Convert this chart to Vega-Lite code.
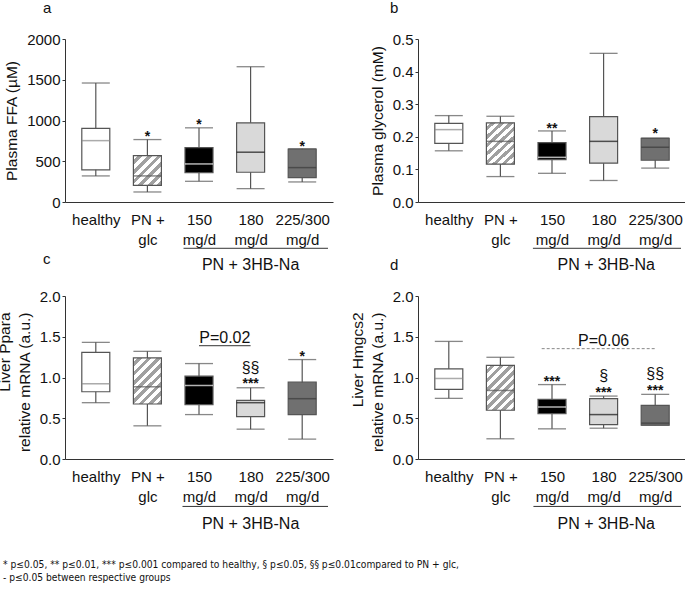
{
"$schema":"https://vega.github.io/schema/vega-lite/v6.json",
"autosize":{"type":"none"},
"padding":{"left":65,"top":39,"right":620,"bottom":562},
"background":"white",
"config":{"font":"Liberation Sans","view":{"stroke":null},
 "axis":{"grid":false,"labelFontSize":15,"titleFontSize":15.5,"titleFontWeight":"normal","labelColor":"#111","titleColor":"#111","domainColor":"#333","tickColor":"#333","tickSize":3,"labelPadding":2,"titleLineHeight":20,"titlePadding":7},
 "axisY":{"labelOverlap":false},
 "title":{"fontWeight":"normal","color":"#111"}},
"datasets":{
"box":[
{"panel":"a","pos":1,"lo":320,"q1":395,"med":753,"q3":904,"hi":1460},
{"panel":"a","pos":2,"lo":123,"q1":205,"med":320,"q3":570,"hi":766},
{"panel":"a","pos":3,"lo":254,"q1":361,"med":467,"q3":668,"hi":910},
{"panel":"a","pos":4,"lo":164,"q1":365,"med":611,"q3":971,"hi":1660},
{"panel":"a","pos":5,"lo":246,"q1":299,"med":422,"q3":648,"hi":652},
{"panel":"b","pos":1,"lo":0.157,"q1":0.180,"med":0.222,"q3":0.241,"hi":0.265},
{"panel":"b","pos":2,"lo":0.078,"q1":0.116,"med":0.186,"q3":0.243,"hi":0.263},
{"panel":"b","pos":3,"lo":0.088,"q1":0.130,"med":0.137,"q3":0.182,"hi":0.218},
{"panel":"b","pos":4,"lo":0.066,"q1":0.119,"med":0.186,"q3":0.262,"hi":0.456},
{"panel":"b","pos":5,"lo":0.104,"q1":0.128,"med":0.168,"q3":0.195,"hi":0.196},
{"panel":"c","pos":1,"lo":0.691,"q1":0.825,"med":0.923,"q3":1.309,"hi":1.431},
{"panel":"c","pos":2,"lo":0.407,"q1":0.675,"med":0.886,"q3":1.240,"hi":1.321},
{"panel":"c","pos":3,"lo":0.545,"q1":0.667,"med":0.902,"q3":1.016,"hi":1.171},
{"panel":"c","pos":4,"lo":0.366,"q1":0.520,"med":0.691,"q3":0.720,"hi":0.874},
{"panel":"c","pos":5,"lo":0.244,"q1":0.545,"med":0.740,"q3":0.943,"hi":1.220},
{"panel":"d","pos":1,"lo":0.744,"q1":0.854,"med":0.988,"q3":1.106,"hi":1.443},
{"panel":"d","pos":2,"lo":0.248,"q1":0.598,"med":0.841,"q3":1.150,"hi":1.248},
{"panel":"d","pos":3,"lo":0.370,"q1":0.557,"med":0.638,"q3":0.732,"hi":0.913},
{"panel":"d","pos":4,"lo":0.378,"q1":0.423,"med":0.545,"q3":0.740,"hi":0.772},
{"panel":"d","pos":5,"lo":0.415,"q1":0.415,"med":0.440,"q3":0.659,"hi":0.793}
],
"notes":[
{"panel":"a","kind":"sig","pos":2,"y":746,"t":"*"},
{"panel":"a","kind":"sig","pos":3,"y":893,"t":"*"},
{"panel":"a","kind":"sig","pos":5,"y":623,"t":"*"},
{"panel":"b","kind":"sig","pos":3,"y":0.213,"t":"**"},
{"panel":"b","kind":"sig","pos":5,"y":0.195,"t":"*"},
{"panel":"c","kind":"sig","pos":4,"y":1.05,"t":"§§"},
{"panel":"c","kind":"sig","pos":4,"y":0.872,"t":"***"},
{"panel":"c","kind":"sig","pos":5,"y":1.206,"t":"*"},
{"panel":"d","kind":"sig","pos":3,"y":0.900,"t":"***"},
{"panel":"d","kind":"sig","pos":4,"y":0.952,"t":"§"},
{"panel":"d","kind":"sig","pos":4,"y":0.760,"t":"***"},
{"panel":"d","kind":"sig","pos":5,"y":0.978,"t":"§§"},
{"panel":"d","kind":"sig","pos":5,"y":0.783,"t":"***"},
{"panel":"a","kind":"label","pos":4.0,"y":-839,"t":"PN + 3HB-Na"},
{"panel":"b","kind":"label","pos":4.05,"y":-0.21,"t":"PN + 3HB-Na"},
{"panel":"c","kind":"label","pos":4.0,"y":-0.859,"t":"PN + 3HB-Na"},
{"panel":"d","kind":"label","pos":4.05,"y":-0.859,"t":"PN + 3HB-Na"},
{"panel":"c","kind":"label","pos":3.5,"y":1.42,"t":"P=0.02"},
{"panel":"d","kind":"label","pos":4.0,"y":1.382,"t":"P=0.06"}
],
"lines":[
{"panel":"a","kind":"group","pos":2.7,"pos2":5.5,"y":-568},
{"panel":"b","kind":"group","pos":2.63,"pos2":5.5,"y":-0.142},
{"panel":"c","kind":"group","pos":2.68,"pos2":5.5,"y":-0.582},
{"panel":"d","kind":"group","pos":2.64,"pos2":5.5,"y":-0.582},
{"panel":"c","kind":"comparison","pos":3.0,"pos2":4.0,"y":1.39},
{"panel":"d","kind":"comparison","pos":2.8,"pos2":5.0,"y":1.354}
]
},
"columns":2,
"bounds":"flush",
"spacing":{"row":94,"column":85},
"title":{"text":["* p≤0.05, ** p≤0.01, *** p≤0.001 compared to healthy, § p≤0.05, §§ p≤0.01compared to PN + glc,","- p≤0.05 between respective groups"],"orient":"bottom","anchor":"start","frame":"group","dx":-62,"offset":28,"fontSize":10.2,"font":"Liberation Sans Narrow, DejaVu Sans Condensed, Liberation Sans","lineHeight":12.5},
"concat":[
{
"width":268,"height":163,
"title":{"text":"a","anchor":"start","frame":"group","dx":-22,"offset":16,"fontSize":15},
"encoding":{"x":{"field":"pos","type":"quantitative","scale":{"domain":[0.5,5.5],"nice":false,"zero":false},"axis":{"title":null,"values":[1,2,3,4,5],"ticks":false,"labelPadding":10,"labelLineHeight":20,"labelOverlap":false,"labelFlush":false,"labelBound":false,"labelExpr":"datum.value == 1 ? 'healthy' : datum.value == 2 ? ['PN +', 'glc'] : datum.value == 3 ? ['150', 'mg/d'] : datum.value == 4 ? ['180', 'mg/d'] : ['225/300', 'mg/d']"}}},
"layer":[
{"data":{"name":"box"},"transform":[{"filter":"datum.panel == 'a'"}],"mark":{"type":"rule","color":"#555","strokeWidth":1.2},"encoding":{"y":{"field":"lo","type":"quantitative","scale":{"domain":[0,2000],"nice":false,"zero":false},"axis":{"title":"Plasma FFA (µM)","values":[0,500,1000,1500,2000],"format":"d"}},"y2":{"field":"hi"}}},
{"data":{"name":"box"},"transform":[{"filter":"datum.panel == 'a'"}],"mark":{"type":"tick","orient":"horizontal","size":28,"thickness":1.3,"color":"#555"},"encoding":{"y":{"field":"lo","type":"quantitative","scale":{"domain":[0,2000],"nice":false,"zero":false},"axis":{"title":"Plasma FFA (µM)","values":[0,500,1000,1500,2000],"format":"d"}}}},
{"data":{"name":"box"},"transform":[{"filter":"datum.panel == 'a'"}],"mark":{"type":"tick","orient":"horizontal","size":28,"thickness":1.3,"color":"#555"},"encoding":{"y":{"field":"hi","type":"quantitative","scale":{"domain":[0,2000],"nice":false,"zero":false},"axis":{"title":"Plasma FFA (µM)","values":[0,500,1000,1500,2000],"format":"d"}}}},
{"data":{"name":"box"},"transform":[{"filter":"datum.panel == 'a' && datum.pos != 2"}],"mark":{"type":"bar","width":28,"stroke":"#555","strokeWidth":1.2},"encoding":{"y":{"field":"q1","type":"quantitative","scale":{"domain":[0,2000],"nice":false,"zero":false},"axis":{"title":"Plasma FFA (µM)","values":[0,500,1000,1500,2000],"format":"d"}},"y2":{"field":"q3"},"fill":{"field":"pos","type":"nominal","scale":{"domain":[1,3,4,5],"range":["#ffffff","#000000","#d9d9d9","#707070"]},"legend":null}}},
{"data":{"name":"box"},"transform":[{"filter":"datum.panel == 'a' && datum.pos == 2"}],"mark":{"type":"bar","width":28,"stroke":"#555","strokeWidth":1.2,"fill":{"gradient":"linear","x1":0,"y1":0,"x2":0.97,"y2":1.03,"stops":[{"offset":0,"color":"#ffffff"},{"offset":0.0833,"color":"#ffffff"},{"offset":0.0833,"color":"#a0a0a0"},{"offset":0.1667,"color":"#a0a0a0"},{"offset":0.1667,"color":"#ffffff"},{"offset":0.25,"color":"#ffffff"},{"offset":0.25,"color":"#a0a0a0"},{"offset":0.3333,"color":"#a0a0a0"},{"offset":0.3333,"color":"#ffffff"},{"offset":0.4167,"color":"#ffffff"},{"offset":0.4167,"color":"#a0a0a0"},{"offset":0.5,"color":"#a0a0a0"},{"offset":0.5,"color":"#ffffff"},{"offset":0.5833,"color":"#ffffff"},{"offset":0.5833,"color":"#a0a0a0"},{"offset":0.6667,"color":"#a0a0a0"},{"offset":0.6667,"color":"#ffffff"},{"offset":0.75,"color":"#ffffff"},{"offset":0.75,"color":"#a0a0a0"},{"offset":0.8333,"color":"#a0a0a0"},{"offset":0.8333,"color":"#ffffff"},{"offset":0.9167,"color":"#ffffff"},{"offset":0.9167,"color":"#a0a0a0"},{"offset":1,"color":"#a0a0a0"}]}},"encoding":{"y":{"field":"q1","type":"quantitative","scale":{"domain":[0,2000],"nice":false,"zero":false},"axis":{"title":"Plasma FFA (µM)","values":[0,500,1000,1500,2000],"format":"d"}},"y2":{"field":"q3"}}},
{"data":{"name":"box"},"transform":[{"filter":"datum.panel == 'a'"}],"mark":{"type":"tick","orient":"horizontal","size":28,"thickness":1.5},"encoding":{"y":{"field":"med","type":"quantitative","scale":{"domain":[0,2000],"nice":false,"zero":false},"axis":{"title":"Plasma FFA (µM)","values":[0,500,1000,1500,2000],"format":"d"}},"color":{"field":"pos","type":"nominal","scale":{"domain":[1,2,3,4,5],"range":["#888888","#555555","#ffffff","#111111","#3a3a3a"]},"legend":null}}},
{"data":{"name":"notes"},"transform":[{"filter":"datum.panel == 'a' && datum.kind == 'sig' && indexof(datum.t, '*') >= 0"}],"mark":{"type":"text","fontSize":14,"fontWeight":"bold","baseline":"alphabetic","color":"#111"},"encoding":{"y":{"field":"y","type":"quantitative","scale":{"domain":[0,2000],"nice":false,"zero":false},"axis":{"title":"Plasma FFA (µM)","values":[0,500,1000,1500,2000],"format":"d"}},"text":{"field":"t"}}},
{"data":{"name":"notes"},"transform":[{"filter":"datum.panel == 'a' && datum.kind == 'label'"}],"mark":{"type":"text","fontSize":16,"baseline":"alphabetic","color":"#111"},"encoding":{"y":{"field":"y","type":"quantitative","scale":{"domain":[0,2000],"nice":false,"zero":false},"axis":{"title":"Plasma FFA (µM)","values":[0,500,1000,1500,2000],"format":"d"}},"text":{"field":"t"}}},
{"data":{"name":"lines"},"transform":[{"filter":"datum.panel == 'a' && datum.kind == 'group'"}],"mark":{"type":"rule","color":"#333","strokeWidth":1},"encoding":{"x2":{"field":"pos2"},"y":{"field":"y","type":"quantitative","scale":{"domain":[0,2000],"nice":false,"zero":false},"axis":{"title":"Plasma FFA (µM)","values":[0,500,1000,1500,2000],"format":"d"}}}}
]},
{
"width":268,"height":163,
"title":{"text":"b","anchor":"start","frame":"group","dx":-28,"offset":16,"fontSize":15},
"encoding":{"x":{"field":"pos","type":"quantitative","scale":{"domain":[0.5,5.5],"nice":false,"zero":false},"axis":{"title":null,"values":[1,2,3,4,5],"ticks":false,"labelPadding":10,"labelLineHeight":20,"labelOverlap":false,"labelFlush":false,"labelBound":false,"labelExpr":"datum.value == 1 ? 'healthy' : datum.value == 2 ? ['PN +', 'glc'] : datum.value == 3 ? ['150', 'mg/d'] : datum.value == 4 ? ['180', 'mg/d'] : ['225/300', 'mg/d']"}}},
"layer":[
{"data":{"name":"box"},"transform":[{"filter":"datum.panel == 'b'"}],"mark":{"type":"rule","color":"#555","strokeWidth":1.2},"encoding":{"y":{"field":"lo","type":"quantitative","scale":{"domain":[0,0.5],"nice":false,"zero":false},"axis":{"title":"Plasma glycerol (mM)","values":[0,0.1,0.2,0.3,0.4,0.5],"format":".1f"}},"y2":{"field":"hi"}}},
{"data":{"name":"box"},"transform":[{"filter":"datum.panel == 'b'"}],"mark":{"type":"tick","orient":"horizontal","size":28,"thickness":1.3,"color":"#555"},"encoding":{"y":{"field":"lo","type":"quantitative","scale":{"domain":[0,0.5],"nice":false,"zero":false},"axis":{"title":"Plasma glycerol (mM)","values":[0,0.1,0.2,0.3,0.4,0.5],"format":".1f"}}}},
{"data":{"name":"box"},"transform":[{"filter":"datum.panel == 'b'"}],"mark":{"type":"tick","orient":"horizontal","size":28,"thickness":1.3,"color":"#555"},"encoding":{"y":{"field":"hi","type":"quantitative","scale":{"domain":[0,0.5],"nice":false,"zero":false},"axis":{"title":"Plasma glycerol (mM)","values":[0,0.1,0.2,0.3,0.4,0.5],"format":".1f"}}}},
{"data":{"name":"box"},"transform":[{"filter":"datum.panel == 'b' && datum.pos != 2"}],"mark":{"type":"bar","width":28,"stroke":"#555","strokeWidth":1.2},"encoding":{"y":{"field":"q1","type":"quantitative","scale":{"domain":[0,0.5],"nice":false,"zero":false},"axis":{"title":"Plasma glycerol (mM)","values":[0,0.1,0.2,0.3,0.4,0.5],"format":".1f"}},"y2":{"field":"q3"},"fill":{"field":"pos","type":"nominal","scale":{"domain":[1,3,4,5],"range":["#ffffff","#000000","#d9d9d9","#707070"]},"legend":null}}},
{"data":{"name":"box"},"transform":[{"filter":"datum.panel == 'b' && datum.pos == 2"}],"mark":{"type":"bar","width":28,"stroke":"#555","strokeWidth":1.2,"fill":{"gradient":"linear","x1":0,"y1":0,"x2":0.73,"y2":1.17,"stops":[{"offset":0,"color":"#ffffff"},{"offset":0.0625,"color":"#ffffff"},{"offset":0.0625,"color":"#a0a0a0"},{"offset":0.125,"color":"#a0a0a0"},{"offset":0.125,"color":"#ffffff"},{"offset":0.1875,"color":"#ffffff"},{"offset":0.1875,"color":"#a0a0a0"},{"offset":0.25,"color":"#a0a0a0"},{"offset":0.25,"color":"#ffffff"},{"offset":0.3125,"color":"#ffffff"},{"offset":0.3125,"color":"#a0a0a0"},{"offset":0.375,"color":"#a0a0a0"},{"offset":0.375,"color":"#ffffff"},{"offset":0.4375,"color":"#ffffff"},{"offset":0.4375,"color":"#a0a0a0"},{"offset":0.5,"color":"#a0a0a0"},{"offset":0.5,"color":"#ffffff"},{"offset":0.5625,"color":"#ffffff"},{"offset":0.5625,"color":"#a0a0a0"},{"offset":0.625,"color":"#a0a0a0"},{"offset":0.625,"color":"#ffffff"},{"offset":0.6875,"color":"#ffffff"},{"offset":0.6875,"color":"#a0a0a0"},{"offset":0.75,"color":"#a0a0a0"},{"offset":0.75,"color":"#ffffff"},{"offset":0.8125,"color":"#ffffff"},{"offset":0.8125,"color":"#a0a0a0"},{"offset":0.875,"color":"#a0a0a0"},{"offset":0.875,"color":"#ffffff"},{"offset":0.9375,"color":"#ffffff"},{"offset":0.9375,"color":"#a0a0a0"},{"offset":1,"color":"#a0a0a0"}]}},"encoding":{"y":{"field":"q1","type":"quantitative","scale":{"domain":[0,0.5],"nice":false,"zero":false},"axis":{"title":"Plasma glycerol (mM)","values":[0,0.1,0.2,0.3,0.4,0.5],"format":".1f"}},"y2":{"field":"q3"}}},
{"data":{"name":"box"},"transform":[{"filter":"datum.panel == 'b'"}],"mark":{"type":"tick","orient":"horizontal","size":28,"thickness":1.5},"encoding":{"y":{"field":"med","type":"quantitative","scale":{"domain":[0,0.5],"nice":false,"zero":false},"axis":{"title":"Plasma glycerol (mM)","values":[0,0.1,0.2,0.3,0.4,0.5],"format":".1f"}},"color":{"field":"pos","type":"nominal","scale":{"domain":[1,2,3,4,5],"range":["#888888","#555555","#ffffff","#111111","#3a3a3a"]},"legend":null}}},
{"data":{"name":"notes"},"transform":[{"filter":"datum.panel == 'b' && datum.kind == 'sig' && indexof(datum.t, '*') >= 0"}],"mark":{"type":"text","fontSize":14,"fontWeight":"bold","baseline":"alphabetic","color":"#111"},"encoding":{"y":{"field":"y","type":"quantitative","scale":{"domain":[0,0.5],"nice":false,"zero":false},"axis":{"title":"Plasma glycerol (mM)","values":[0,0.1,0.2,0.3,0.4,0.5],"format":".1f"}},"text":{"field":"t"}}},
{"data":{"name":"notes"},"transform":[{"filter":"datum.panel == 'b' && datum.kind == 'label'"}],"mark":{"type":"text","fontSize":16,"baseline":"alphabetic","color":"#111"},"encoding":{"y":{"field":"y","type":"quantitative","scale":{"domain":[0,0.5],"nice":false,"zero":false},"axis":{"title":"Plasma glycerol (mM)","values":[0,0.1,0.2,0.3,0.4,0.5],"format":".1f"}},"text":{"field":"t"}}},
{"data":{"name":"lines"},"transform":[{"filter":"datum.panel == 'b' && datum.kind == 'group'"}],"mark":{"type":"rule","color":"#333","strokeWidth":1},"encoding":{"x2":{"field":"pos2"},"y":{"field":"y","type":"quantitative","scale":{"domain":[0,0.5],"nice":false,"zero":false},"axis":{"title":"Plasma glycerol (mM)","values":[0,0.1,0.2,0.3,0.4,0.5],"format":".1f"}}}}
]},
{
"width":268,"height":163,
"title":{"text":"c","anchor":"start","frame":"group","dx":-22,"offset":22,"fontSize":15},
"encoding":{"x":{"field":"pos","type":"quantitative","scale":{"domain":[0.5,5.5],"nice":false,"zero":false},"axis":{"title":null,"values":[1,2,3,4,5],"ticks":false,"labelPadding":10,"labelLineHeight":20,"labelOverlap":false,"labelFlush":false,"labelBound":false,"labelExpr":"datum.value == 1 ? 'healthy' : datum.value == 2 ? ['PN +', 'glc'] : datum.value == 3 ? ['150', 'mg/d'] : datum.value == 4 ? ['180', 'mg/d'] : ['225/300', 'mg/d']"}}},
"layer":[
{"data":{"name":"box"},"transform":[{"filter":"datum.panel == 'c'"}],"mark":{"type":"rule","color":"#555","strokeWidth":1.2},"encoding":{"y":{"field":"lo","type":"quantitative","scale":{"domain":[0,2],"nice":false,"zero":false},"axis":{"title":["Liver Ppara","relative mRNA (a.u.)"],"values":[0,0.5,1,1.5,2],"format":".1f","titleAlign":"right","titleY":16}},"y2":{"field":"hi"}}},
{"data":{"name":"box"},"transform":[{"filter":"datum.panel == 'c'"}],"mark":{"type":"tick","orient":"horizontal","size":28,"thickness":1.3,"color":"#555"},"encoding":{"y":{"field":"lo","type":"quantitative","scale":{"domain":[0,2],"nice":false,"zero":false},"axis":{"title":["Liver Ppara","relative mRNA (a.u.)"],"values":[0,0.5,1,1.5,2],"format":".1f","titleAlign":"right","titleY":16}}}},
{"data":{"name":"box"},"transform":[{"filter":"datum.panel == 'c'"}],"mark":{"type":"tick","orient":"horizontal","size":28,"thickness":1.3,"color":"#555"},"encoding":{"y":{"field":"hi","type":"quantitative","scale":{"domain":[0,2],"nice":false,"zero":false},"axis":{"title":["Liver Ppara","relative mRNA (a.u.)"],"values":[0,0.5,1,1.5,2],"format":".1f","titleAlign":"right","titleY":16}}}},
{"data":{"name":"box"},"transform":[{"filter":"datum.panel == 'c' && datum.pos != 2"}],"mark":{"type":"bar","width":28,"stroke":"#555","strokeWidth":1.2},"encoding":{"y":{"field":"q1","type":"quantitative","scale":{"domain":[0,2],"nice":false,"zero":false},"axis":{"title":["Liver Ppara","relative mRNA (a.u.)"],"values":[0,0.5,1,1.5,2],"format":".1f","titleAlign":"right","titleY":16}},"y2":{"field":"q3"},"fill":{"field":"pos","type":"nominal","scale":{"domain":[1,3,4,5],"range":["#ffffff","#000000","#d9d9d9","#707070"]},"legend":null}}},
{"data":{"name":"box"},"transform":[{"filter":"datum.panel == 'c' && datum.pos == 2"}],"mark":{"type":"bar","width":28,"stroke":"#555","strokeWidth":1.2,"fill":{"gradient":"linear","x1":0,"y1":0,"x2":0.71,"y2":1.175,"stops":[{"offset":0,"color":"#ffffff"},{"offset":0.0625,"color":"#ffffff"},{"offset":0.0625,"color":"#a0a0a0"},{"offset":0.125,"color":"#a0a0a0"},{"offset":0.125,"color":"#ffffff"},{"offset":0.1875,"color":"#ffffff"},{"offset":0.1875,"color":"#a0a0a0"},{"offset":0.25,"color":"#a0a0a0"},{"offset":0.25,"color":"#ffffff"},{"offset":0.3125,"color":"#ffffff"},{"offset":0.3125,"color":"#a0a0a0"},{"offset":0.375,"color":"#a0a0a0"},{"offset":0.375,"color":"#ffffff"},{"offset":0.4375,"color":"#ffffff"},{"offset":0.4375,"color":"#a0a0a0"},{"offset":0.5,"color":"#a0a0a0"},{"offset":0.5,"color":"#ffffff"},{"offset":0.5625,"color":"#ffffff"},{"offset":0.5625,"color":"#a0a0a0"},{"offset":0.625,"color":"#a0a0a0"},{"offset":0.625,"color":"#ffffff"},{"offset":0.6875,"color":"#ffffff"},{"offset":0.6875,"color":"#a0a0a0"},{"offset":0.75,"color":"#a0a0a0"},{"offset":0.75,"color":"#ffffff"},{"offset":0.8125,"color":"#ffffff"},{"offset":0.8125,"color":"#a0a0a0"},{"offset":0.875,"color":"#a0a0a0"},{"offset":0.875,"color":"#ffffff"},{"offset":0.9375,"color":"#ffffff"},{"offset":0.9375,"color":"#a0a0a0"},{"offset":1,"color":"#a0a0a0"}]}},"encoding":{"y":{"field":"q1","type":"quantitative","scale":{"domain":[0,2],"nice":false,"zero":false},"axis":{"title":["Liver Ppara","relative mRNA (a.u.)"],"values":[0,0.5,1,1.5,2],"format":".1f","titleAlign":"right","titleY":16}},"y2":{"field":"q3"}}},
{"data":{"name":"box"},"transform":[{"filter":"datum.panel == 'c'"}],"mark":{"type":"tick","orient":"horizontal","size":28,"thickness":1.5},"encoding":{"y":{"field":"med","type":"quantitative","scale":{"domain":[0,2],"nice":false,"zero":false},"axis":{"title":["Liver Ppara","relative mRNA (a.u.)"],"values":[0,0.5,1,1.5,2],"format":".1f","titleAlign":"right","titleY":16}},"color":{"field":"pos","type":"nominal","scale":{"domain":[1,2,3,4,5],"range":["#888888","#555555","#ffffff","#111111","#3a3a3a"]},"legend":null}}},
{"data":{"name":"notes"},"transform":[{"filter":"datum.panel == 'c' && datum.kind == 'sig' && indexof(datum.t, '*') >= 0"}],"mark":{"type":"text","fontSize":14,"fontWeight":"bold","baseline":"alphabetic","color":"#111"},"encoding":{"y":{"field":"y","type":"quantitative","scale":{"domain":[0,2],"nice":false,"zero":false},"axis":{"title":["Liver Ppara","relative mRNA (a.u.)"],"values":[0,0.5,1,1.5,2],"format":".1f","titleAlign":"right","titleY":16}},"text":{"field":"t"}}},
{"data":{"name":"notes"},"transform":[{"filter":"datum.panel == 'c' && datum.kind == 'sig' && indexof(datum.t, '§') >= 0"}],"mark":{"type":"text","fontSize":16,"baseline":"alphabetic","color":"#111"},"encoding":{"y":{"field":"y","type":"quantitative","scale":{"domain":[0,2],"nice":false,"zero":false},"axis":{"title":["Liver Ppara","relative mRNA (a.u.)"],"values":[0,0.5,1,1.5,2],"format":".1f","titleAlign":"right","titleY":16}},"text":{"field":"t"}}},
{"data":{"name":"notes"},"transform":[{"filter":"datum.panel == 'c' && datum.kind == 'label'"}],"mark":{"type":"text","fontSize":16,"baseline":"alphabetic","color":"#111"},"encoding":{"y":{"field":"y","type":"quantitative","scale":{"domain":[0,2],"nice":false,"zero":false},"axis":{"title":["Liver Ppara","relative mRNA (a.u.)"],"values":[0,0.5,1,1.5,2],"format":".1f","titleAlign":"right","titleY":16}},"text":{"field":"t"}}},
{"data":{"name":"lines"},"transform":[{"filter":"datum.panel == 'c'"}],"mark":{"type":"rule","color":"#333","strokeWidth":1},"encoding":{"x2":{"field":"pos2"},"y":{"field":"y","type":"quantitative","scale":{"domain":[0,2],"nice":false,"zero":false},"axis":{"title":["Liver Ppara","relative mRNA (a.u.)"],"values":[0,0.5,1,1.5,2],"format":".1f","titleAlign":"right","titleY":16}}}}
]},
{
"width":268,"height":163,
"title":{"text":"d","anchor":"start","frame":"group","dx":-28,"offset":16,"fontSize":15},
"encoding":{"x":{"field":"pos","type":"quantitative","scale":{"domain":[0.5,5.5],"nice":false,"zero":false},"axis":{"title":null,"values":[1,2,3,4,5],"ticks":false,"labelPadding":10,"labelLineHeight":20,"labelOverlap":false,"labelFlush":false,"labelBound":false,"labelExpr":"datum.value == 1 ? 'healthy' : datum.value == 2 ? ['PN +', 'glc'] : datum.value == 3 ? ['150', 'mg/d'] : datum.value == 4 ? ['180', 'mg/d'] : ['225/300', 'mg/d']"}}},
"layer":[
{"data":{"name":"box"},"transform":[{"filter":"datum.panel == 'd'"}],"mark":{"type":"rule","color":"#555","strokeWidth":1.2},"encoding":{"y":{"field":"lo","type":"quantitative","scale":{"domain":[0,2],"nice":false,"zero":false},"axis":{"title":["Liver Hmgcs2","relative mRNA (a.u.)"],"values":[0,0.5,1,1.5,2],"format":".1f","titleAlign":"right","titleY":16}},"y2":{"field":"hi"}}},
{"data":{"name":"box"},"transform":[{"filter":"datum.panel == 'd'"}],"mark":{"type":"tick","orient":"horizontal","size":28,"thickness":1.3,"color":"#555"},"encoding":{"y":{"field":"lo","type":"quantitative","scale":{"domain":[0,2],"nice":false,"zero":false},"axis":{"title":["Liver Hmgcs2","relative mRNA (a.u.)"],"values":[0,0.5,1,1.5,2],"format":".1f","titleAlign":"right","titleY":16}}}},
{"data":{"name":"box"},"transform":[{"filter":"datum.panel == 'd'"}],"mark":{"type":"tick","orient":"horizontal","size":28,"thickness":1.3,"color":"#555"},"encoding":{"y":{"field":"hi","type":"quantitative","scale":{"domain":[0,2],"nice":false,"zero":false},"axis":{"title":["Liver Hmgcs2","relative mRNA (a.u.)"],"values":[0,0.5,1,1.5,2],"format":".1f","titleAlign":"right","titleY":16}}}},
{"data":{"name":"box"},"transform":[{"filter":"datum.panel == 'd' && datum.pos != 2"}],"mark":{"type":"bar","width":28,"stroke":"#555","strokeWidth":1.2},"encoding":{"y":{"field":"q1","type":"quantitative","scale":{"domain":[0,2],"nice":false,"zero":false},"axis":{"title":["Liver Hmgcs2","relative mRNA (a.u.)"],"values":[0,0.5,1,1.5,2],"format":".1f","titleAlign":"right","titleY":16}},"y2":{"field":"q3"},"fill":{"field":"pos","type":"nominal","scale":{"domain":[1,3,4,5],"range":["#ffffff","#000000","#d9d9d9","#707070"]},"legend":null}}},
{"data":{"name":"box"},"transform":[{"filter":"datum.panel == 'd' && datum.pos == 2"}],"mark":{"type":"bar","width":28,"stroke":"#555","strokeWidth":1.2,"fill":{"gradient":"linear","x1":0,"y1":0,"x2":0.724,"y2":1.171,"stops":[{"offset":0,"color":"#ffffff"},{"offset":0.0625,"color":"#ffffff"},{"offset":0.0625,"color":"#a0a0a0"},{"offset":0.125,"color":"#a0a0a0"},{"offset":0.125,"color":"#ffffff"},{"offset":0.1875,"color":"#ffffff"},{"offset":0.1875,"color":"#a0a0a0"},{"offset":0.25,"color":"#a0a0a0"},{"offset":0.25,"color":"#ffffff"},{"offset":0.3125,"color":"#ffffff"},{"offset":0.3125,"color":"#a0a0a0"},{"offset":0.375,"color":"#a0a0a0"},{"offset":0.375,"color":"#ffffff"},{"offset":0.4375,"color":"#ffffff"},{"offset":0.4375,"color":"#a0a0a0"},{"offset":0.5,"color":"#a0a0a0"},{"offset":0.5,"color":"#ffffff"},{"offset":0.5625,"color":"#ffffff"},{"offset":0.5625,"color":"#a0a0a0"},{"offset":0.625,"color":"#a0a0a0"},{"offset":0.625,"color":"#ffffff"},{"offset":0.6875,"color":"#ffffff"},{"offset":0.6875,"color":"#a0a0a0"},{"offset":0.75,"color":"#a0a0a0"},{"offset":0.75,"color":"#ffffff"},{"offset":0.8125,"color":"#ffffff"},{"offset":0.8125,"color":"#a0a0a0"},{"offset":0.875,"color":"#a0a0a0"},{"offset":0.875,"color":"#ffffff"},{"offset":0.9375,"color":"#ffffff"},{"offset":0.9375,"color":"#a0a0a0"},{"offset":1,"color":"#a0a0a0"}]}},"encoding":{"y":{"field":"q1","type":"quantitative","scale":{"domain":[0,2],"nice":false,"zero":false},"axis":{"title":["Liver Hmgcs2","relative mRNA (a.u.)"],"values":[0,0.5,1,1.5,2],"format":".1f","titleAlign":"right","titleY":16}},"y2":{"field":"q3"}}},
{"data":{"name":"box"},"transform":[{"filter":"datum.panel == 'd'"}],"mark":{"type":"tick","orient":"horizontal","size":28,"thickness":1.5},"encoding":{"y":{"field":"med","type":"quantitative","scale":{"domain":[0,2],"nice":false,"zero":false},"axis":{"title":["Liver Hmgcs2","relative mRNA (a.u.)"],"values":[0,0.5,1,1.5,2],"format":".1f","titleAlign":"right","titleY":16}},"color":{"field":"pos","type":"nominal","scale":{"domain":[1,2,3,4,5],"range":["#888888","#555555","#ffffff","#111111","#3a3a3a"]},"legend":null}}},
{"data":{"name":"notes"},"transform":[{"filter":"datum.panel == 'd' && datum.kind == 'sig' && indexof(datum.t, '*') >= 0"}],"mark":{"type":"text","fontSize":14,"fontWeight":"bold","baseline":"alphabetic","color":"#111"},"encoding":{"y":{"field":"y","type":"quantitative","scale":{"domain":[0,2],"nice":false,"zero":false},"axis":{"title":["Liver Hmgcs2","relative mRNA (a.u.)"],"values":[0,0.5,1,1.5,2],"format":".1f","titleAlign":"right","titleY":16}},"text":{"field":"t"}}},
{"data":{"name":"notes"},"transform":[{"filter":"datum.panel == 'd' && datum.kind == 'sig' && indexof(datum.t, '§') >= 0"}],"mark":{"type":"text","fontSize":16,"baseline":"alphabetic","color":"#111"},"encoding":{"y":{"field":"y","type":"quantitative","scale":{"domain":[0,2],"nice":false,"zero":false},"axis":{"title":["Liver Hmgcs2","relative mRNA (a.u.)"],"values":[0,0.5,1,1.5,2],"format":".1f","titleAlign":"right","titleY":16}},"text":{"field":"t"}}},
{"data":{"name":"notes"},"transform":[{"filter":"datum.panel == 'd' && datum.kind == 'label'"}],"mark":{"type":"text","fontSize":16,"baseline":"alphabetic","color":"#111"},"encoding":{"y":{"field":"y","type":"quantitative","scale":{"domain":[0,2],"nice":false,"zero":false},"axis":{"title":["Liver Hmgcs2","relative mRNA (a.u.)"],"values":[0,0.5,1,1.5,2],"format":".1f","titleAlign":"right","titleY":16}},"text":{"field":"t"}}},
{"data":{"name":"lines"},"transform":[{"filter":"datum.panel == 'd' && datum.kind == 'group'"}],"mark":{"type":"rule","color":"#333","strokeWidth":1},"encoding":{"x2":{"field":"pos2"},"y":{"field":"y","type":"quantitative","scale":{"domain":[0,2],"nice":false,"zero":false},"axis":{"title":["Liver Hmgcs2","relative mRNA (a.u.)"],"values":[0,0.5,1,1.5,2],"format":".1f","titleAlign":"right","titleY":16}}}},
{"data":{"name":"lines"},"transform":[{"filter":"datum.panel == 'd' && datum.kind == 'comparison'"}],"mark":{"type":"rule","color":"#888","strokeWidth":1,"strokeDash":[3,2]},"encoding":{"x2":{"field":"pos2"},"y":{"field":"y","type":"quantitative","scale":{"domain":[0,2],"nice":false,"zero":false},"axis":{"title":["Liver Hmgcs2","relative mRNA (a.u.)"],"values":[0,0.5,1,1.5,2],"format":".1f","titleAlign":"right","titleY":16}}}}
]}
]
}
